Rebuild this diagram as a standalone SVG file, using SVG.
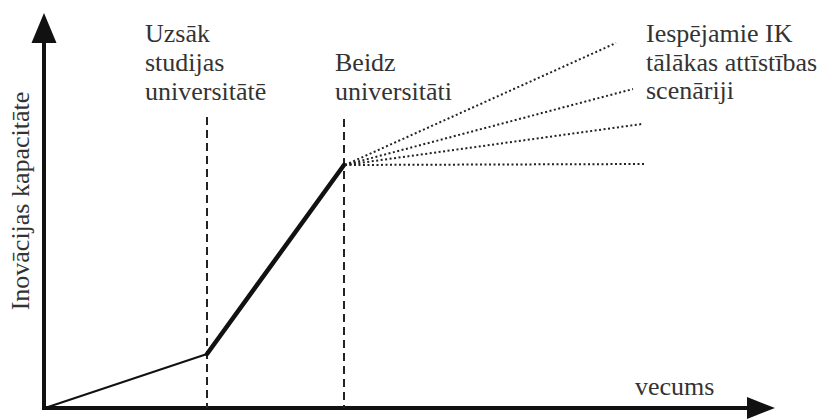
<svg xmlns="http://www.w3.org/2000/svg" width="826" height="419" viewBox="0 0 826 419">
  <rect width="826" height="419" fill="#fff"/>
  <g id="connectors" fill="none" stroke="#111">
    <line x1="44" y1="410" x2="44" y2="38" stroke-width="4"/>
    <polygon points="44,13 31.5,43 56.5,43" fill="#111" stroke="none"/>
    <line x1="42" y1="408" x2="750" y2="408" stroke-width="4"/>
    <polygon points="775,408 747,397 747,419" fill="#111" stroke="none"/>
    <g stroke="#222" stroke-width="2" stroke-dasharray="8 5">
      <line x1="207" y1="117" x2="207" y2="408"/>
      <line x1="344" y1="119" x2="344" y2="408"/>
    </g>
    <line x1="45" y1="408" x2="207" y2="354" stroke-width="2"/>
    <line x1="207" y1="354" x2="344" y2="165" stroke-width="4.5" stroke-linecap="round"/>
    <g stroke="#222" stroke-width="2" stroke-dasharray="2 2.5">
      <line x1="345" y1="165" x2="616" y2="43"/>
      <line x1="345" y1="165" x2="633" y2="89"/>
      <line x1="345" y1="165" x2="642" y2="124"/>
      <line x1="345" y1="165" x2="646" y2="164"/>
    </g>
  </g>
  <g id="label-y" fill="#333">
    <text font-family="Liberation Serif" font-size="26" transform="translate(29,201) rotate(-90)" text-anchor="middle">Inovācijas kapacitāte</text>
  </g>
  <g id="label-x" fill="#333">
    <text font-family="Liberation Serif" font-size="26" x="635" y="395">vecums</text>
  </g>
  <g id="label-start" fill="#333">
    <text font-family="Liberation Serif" font-size="26" x="145" y="42">Uzsāk</text>
    <text font-family="Liberation Serif" font-size="26" x="145" y="71">studijas</text>
    <text font-family="Liberation Serif" font-size="26" x="145" y="100">universitātē</text>
  </g>
  <g id="label-end" fill="#333">
    <text font-family="Liberation Serif" font-size="26" x="335" y="71">Beidz</text>
    <text font-family="Liberation Serif" font-size="26" x="335" y="100">universitāti</text>
  </g>
  <g id="label-scenarios" fill="#333">
    <text font-family="Liberation Serif" font-size="26" x="646" y="42">Iespējamie IK</text>
    <text font-family="Liberation Serif" font-size="26" x="646" y="71">tālākas attīstības</text>
    <text font-family="Liberation Serif" font-size="26" x="646" y="99">scenāriji</text>
  </g>
</svg>
